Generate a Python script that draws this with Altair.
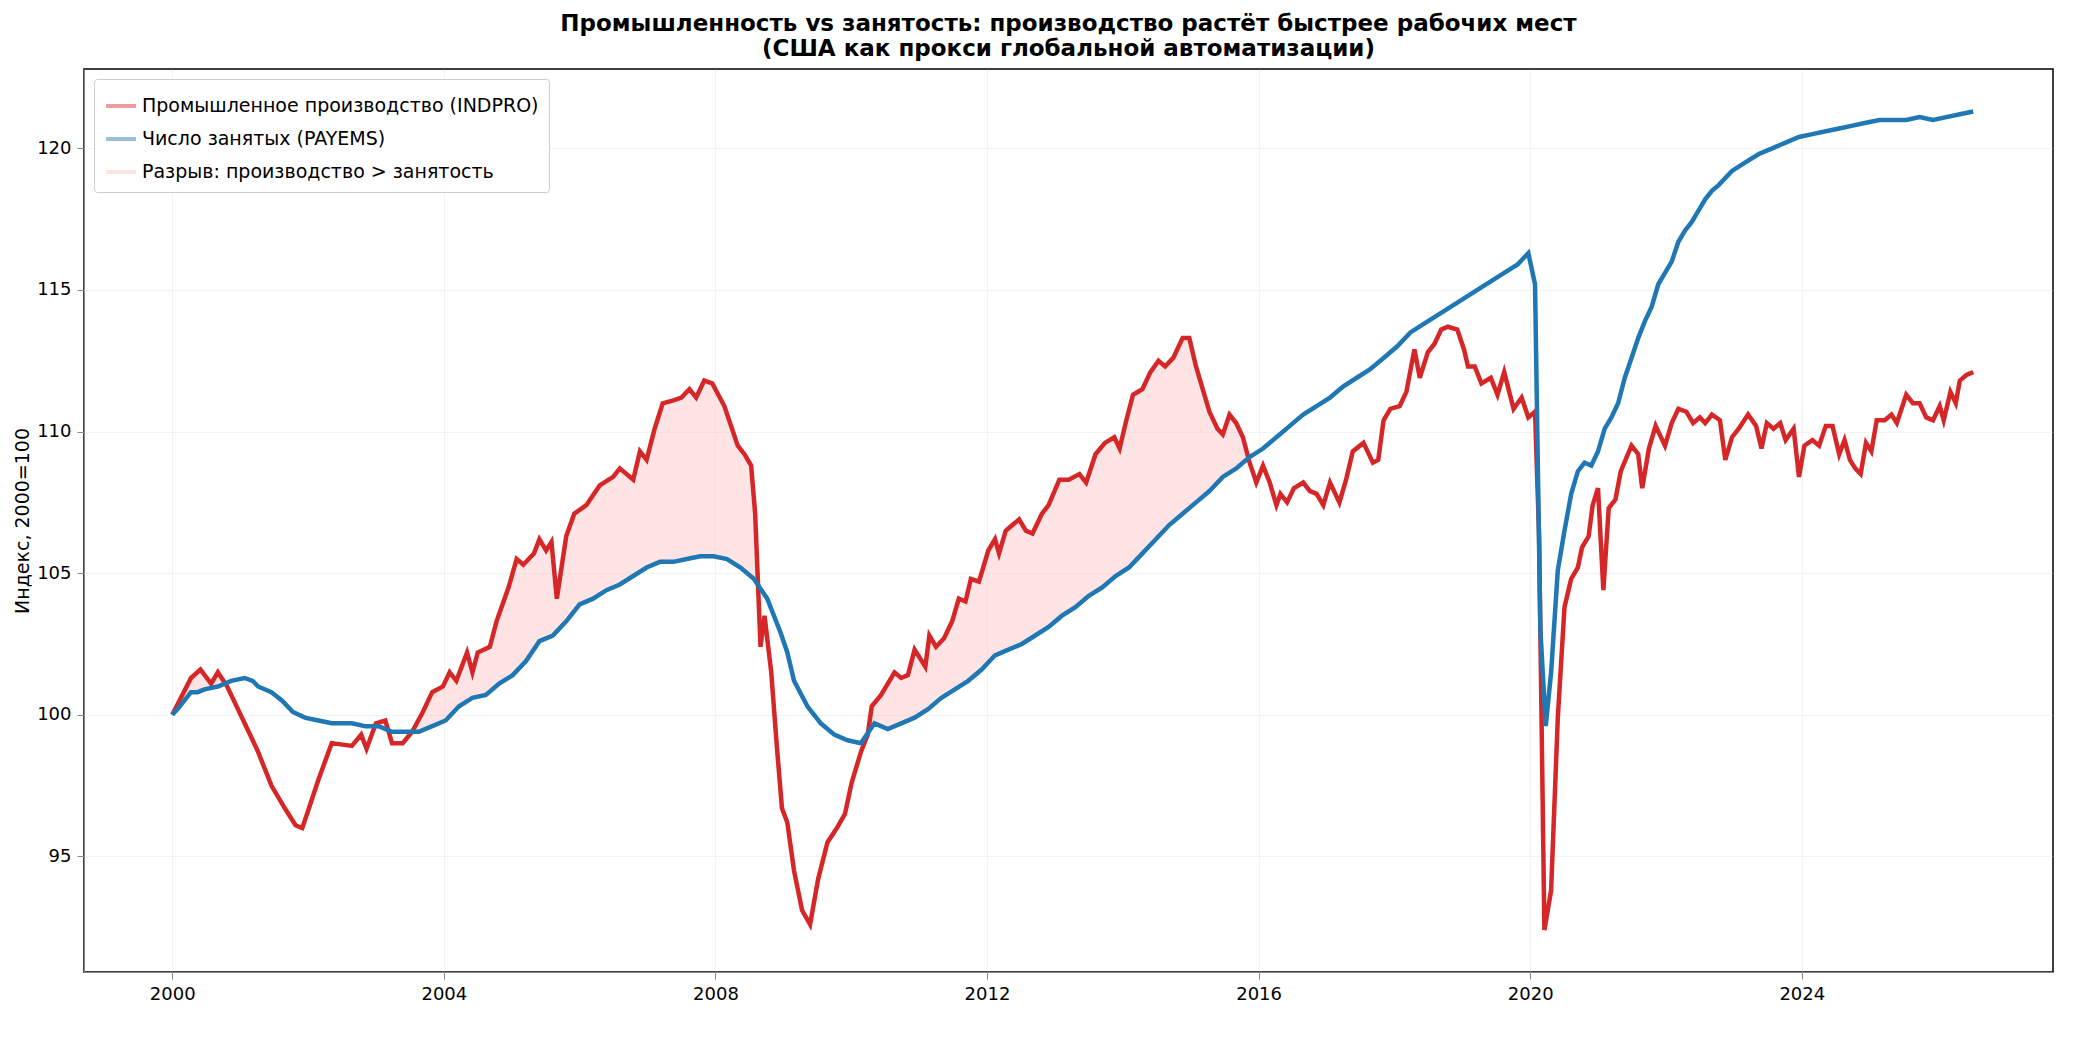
import altair as alt
import numpy as np
import pandas as pd

# positions (pixels), converted to decimal years below
X0, PX_PER_YEAR = 146, 50.67

ind_px = [146, 160, 167, 175, 180, 187, 195, 200, 210, 220, 230, 238, 243, 248, 255, 265, 280, 287, 291, 298,
          305, 310, 318, 325, 333, 340, 348, 353, 358, 366, 370, 374, 383, 388, 397, 403, 408, 416, 420, 425,
          429, 433, 440, 446, 455, 465, 475, 480, 490, 495, 500, 506, 512, 520, 526, 532, 537, 543, 549, 558,
          568, 573, 578, 581, 585, 588, 593, 597, 601, 605, 610, 616, 622, 628, 635, 642, 648, 653, 660, 665,
          668, 675, 685, 690, 695, 700, 708, 711, 716, 722, 728, 733, 738, 742, 748, 755, 760, 763, 768, 773,
          778, 783, 788, 795, 800, 808, 815, 823, 828, 835, 842, 849, 853, 858, 863, 870, 876, 882, 887, 893,
          900, 905, 910, 915, 920, 926, 930, 935, 940, 945, 950, 955, 960, 965, 970, 973, 978, 983, 990, 995,
          1000, 1005, 1010, 1017, 1022, 1027, 1035, 1042, 1046, 1050, 1055, 1062, 1067, 1073, 1077, 1083, 1088, 1093, 1098, 1105,
          1110, 1113, 1118, 1123, 1130, 1135, 1140, 1147, 1153, 1158, 1163, 1166, 1170, 1175, 1180, 1185, 1190, 1195, 1198, 1203,
          1206, 1210, 1214, 1218, 1223, 1227, 1235, 1240, 1243, 1248, 1253, 1260, 1265, 1270, 1276, 1281, 1286, 1290, 1295, 1301,
          1305, 1310, 1315, 1322, 1328, 1332, 1336, 1341, 1346, 1350, 1356, 1360, 1364, 1370, 1375, 1380, 1385, 1390, 1394, 1398,
          1402, 1406, 1410, 1414, 1418, 1424, 1429, 1433, 1440, 1445, 1450, 1455, 1460, 1465, 1468, 1473, 1477, 1480, 1485, 1490]
ind_val = [100, 101.3, 101.6, 101.1, 101.5, 101.0, 100.2, 99.7, 98.7, 97.5, 96.7, 96.1, 96.0, 96.7, 97.7, 99.0, 98.9, 99.3, 98.8, 99.7,
           99.8, 99.0, 99.0, 99.4, 100.1, 100.8, 101.0, 101.5, 101.2, 102.2, 101.5, 102.2, 102.4, 103.3, 104.5, 105.5, 105.3, 105.7, 106.2, 105.8,
           106.1, 104.1, 106.3, 107.1, 107.4, 108.1, 108.4, 108.7, 108.3, 109.3, 109.0, 110.1, 111.0, 111.1, 111.2, 111.5, 111.2, 111.8, 111.7, 110.9,
           109.5, 109.2, 108.8, 107.1, 102.4, 103.5, 101.5, 99.0, 96.7, 96.2, 94.5, 93.1, 92.6, 94.2, 95.5, 96.0, 96.5, 97.6, 98.7, 99.3,
           100.3, 100.7, 101.5, 101.3, 101.4, 102.3, 101.7, 102.8, 102.4, 102.7, 103.3, 104.1, 104.0, 104.8, 104.7, 105.8, 106.2, 105.7, 106.5, 106.7,
           106.9, 106.5, 106.4, 107.1, 107.4, 108.3, 108.3, 108.5, 108.2, 109.2, 109.6, 109.8, 109.4, 110.4, 111.3, 111.5, 112.1, 112.5, 112.3, 112.6,
           113.3, 113.3, 112.3, 111.5, 110.7, 110.1, 109.9, 110.6, 110.3, 109.8, 108.9, 108.2, 108.8, 108.2, 107.4, 107.8, 107.5, 108.0, 108.2, 107.9,
           107.8, 107.4, 108.2, 107.5, 108.3, 109.3, 109.6, 108.9, 109.0, 110.4, 110.8, 110.9, 111.4, 112.9, 111.9, 112.8, 113.1, 113.6, 113.7, 113.6,
           112.9, 112.3, 112.3, 111.7, 111.9, 111.3, 112.1, 110.8, 111.2, 110.5, 110.7, 106.4, 92.4, 93.8, 99.9, 103.8, 104.8, 105.2, 105.9, 106.3,
           107.4, 108.0, 104.4, 107.3, 107.6, 108.6, 109.5, 109.2, 108.0, 109.4, 110.2, 109.5, 110.3, 110.8, 110.7, 110.3, 110.5, 110.3, 110.6, 110.4,
           109.0, 109.8, 110.1, 110.6, 110.2, 109.4, 110.3, 110.1, 110.3, 109.7, 110.1, 108.4, 109.5, 109.7, 109.5, 110.2, 110.2, 109.2, 109.7, 109.0,
           108.7, 108.5, 109.6, 109.3, 110.4, 110.4, 110.6, 110.3, 111.3, 111.0, 111.0, 110.5, 110.4, 110.9, 110.4, 111.4, 111.0, 111.8, 112.0, 112.1]

pay_px = [146, 150, 160, 165, 170, 180, 190, 200, 206, 210, 220, 228, 236, 245, 255, 265, 280, 290, 300, 310,
          320, 330, 340, 350, 360, 370, 380, 390, 400, 410, 420, 430, 440, 450, 460, 470, 480, 490, 500, 510,
          520, 530, 540, 550, 560, 570, 580, 590, 600, 605, 610, 620, 630, 640, 650, 660, 670, 680, 690, 700,
          710, 720, 730, 740, 750, 760, 770, 780, 790, 800, 810, 820, 830, 840, 850, 860, 870, 880, 890, 900,
          910, 920, 930, 940, 950, 960, 970, 980, 990, 1000, 1010, 1020, 1030, 1040, 1050, 1060, 1070, 1080, 1090, 1100,
          1110, 1120, 1130, 1140, 1150, 1158, 1163, 1167, 1171, 1175, 1180, 1185, 1190, 1195, 1200, 1205, 1210, 1215, 1220, 1225,
          1230, 1235, 1240, 1245, 1250, 1255, 1260, 1265, 1270, 1275, 1280, 1285, 1290, 1295, 1300, 1310, 1320, 1330, 1340, 1350,
          1360, 1370, 1380, 1390, 1400, 1410, 1420, 1430, 1440, 1450, 1460, 1470, 1480, 1490]
pay_val = [100, 100.2, 100.8, 100.8, 100.9, 101.0, 101.2, 101.3, 101.2, 101.0, 100.8, 100.5, 100.1, 99.9, 99.8, 99.7, 99.7, 99.6, 99.6, 99.4,
           99.4, 99.4, 99.6, 99.8, 100.3, 100.6, 100.7, 101.1, 101.4, 101.9, 102.6, 102.8, 103.3, 103.9, 104.1, 104.4, 104.6, 104.9, 105.2, 105.4,
           105.4, 105.5, 105.6, 105.6, 105.5, 105.2, 104.8, 104.1, 102.9, 102.2, 101.2, 100.3, 99.7, 99.3, 99.1, 99.0, 99.7, 99.5, 99.7, 99.9,
           100.2, 100.6, 100.9, 101.2, 101.6, 102.1, 102.3, 102.5, 102.8, 103.1, 103.5, 103.8, 104.2, 104.5, 104.9, 105.2, 105.7, 106.2, 106.7, 107.1,
           107.5, 107.9, 108.4, 108.7, 109.1, 109.4, 109.8, 110.2, 110.6, 110.9, 111.2, 111.6, 111.9, 112.2, 112.6, 113.0, 113.5, 113.8, 114.1, 114.4,
           114.7, 115.0, 115.3, 115.6, 115.9, 116.3, 115.2, 103.0, 99.6, 101.5, 105.1, 106.5, 107.8, 108.6, 108.9, 108.8, 109.3, 110.1, 110.5, 111.0,
           111.9, 112.6, 113.3, 113.9, 114.4, 115.2, 115.6, 116.0, 116.7, 117.1, 117.4, 117.8, 118.2, 118.5, 118.7, 119.2, 119.5, 119.8, 120.0, 120.2,
           120.4, 120.5, 120.6, 120.7, 120.8, 120.9, 121.0, 121.0, 121.0, 121.1, 121.0, 121.1, 121.2, 121.3]

IND = "Промышленное производство (INDPRO)"
PAY = "Число занятых (PAYEMS)"
GAP = "Разрыв: производство > занятость"


def to_year(px):
    return 2000 + (np.array(px) - X0) / PX_PER_YEAR


ind = pd.DataFrame({"year": to_year(ind_px), "value": ind_val, "series": IND})
pay = pd.DataFrame({"year": to_year(pay_px), "value": pay_val, "series": PAY})
lines_df = pd.concat([ind, pay])

# gap band on the union of the two date grids
grid = np.union1d(ind["year"], pay["year"])
gi = np.interp(grid, ind["year"], ind["value"])
gp = np.interp(grid, pay["year"], pay["value"])
gap_df = pd.DataFrame({"year": grid, "top": np.maximum(gi, gp), "bottom": gp, "series": GAP})

color = alt.Color("series:N", title=None,
                  scale=alt.Scale(domain=[IND, PAY, GAP], range=["#d62728", "#1f77b4", "#ffc4c8"]),
                  legend=alt.Legend(orient="top-left", symbolType="stroke", symbolStrokeWidth=4,
                                    labelFontSize=19, symbolSize=900, padding=10, rowPadding=6,
                                    strokeColor="#cccccc", fillColor="white", labelLimit=700,
                                    offset=10, cornerRadius=3))

x = alt.X("year:Q", title=None, scale=alt.Scale(domain=[1998.7, 2027.7], nice=False),
          axis=alt.Axis(values=list(range(2000, 2025, 4)), format="d", labelFontSize=18,
                        grid=True, gridOpacity=0.35, tickSize=7, labelPadding=6))
y_axis = alt.Axis(values=[95, 100, 105, 110, 115, 120], labelFontSize=18, titleFontSize=19,
                  titleFontWeight="normal", grid=True, gridOpacity=0.35, tickSize=7, labelPadding=6)
y_scale = alt.Scale(domain=[90.92, 122.8], nice=False, zero=False)

band = alt.Chart(gap_df).mark_area(opacity=0.45).encode(
    x=x,
    y=alt.Y("top:Q", scale=y_scale, axis=y_axis, title="Индекс, 2000=100"),
    y2="bottom:Q",
    color=color,
)

lines = alt.Chart(lines_df).mark_line(strokeWidth=4.5).encode(
    x=x,
    y=alt.Y("value:Q", scale=y_scale),
    color=color,
    detail="series:N",
)

chart = (band + lines).properties(
    width=1969, height=903,
    title=alt.TitleParams(["Промышленность vs занятость: производство растёт быстрее рабочих мест",
                           "(США как прокси глобальной автоматизации)"],
                          fontSize=23, fontWeight="bold", anchor="middle", offset=8),
).configure(font="DejaVu Sans").configure_view(stroke="black", strokeWidth=1.5)

chart.save("out.html", embed_options={"renderer": "svg", "actions": False})
